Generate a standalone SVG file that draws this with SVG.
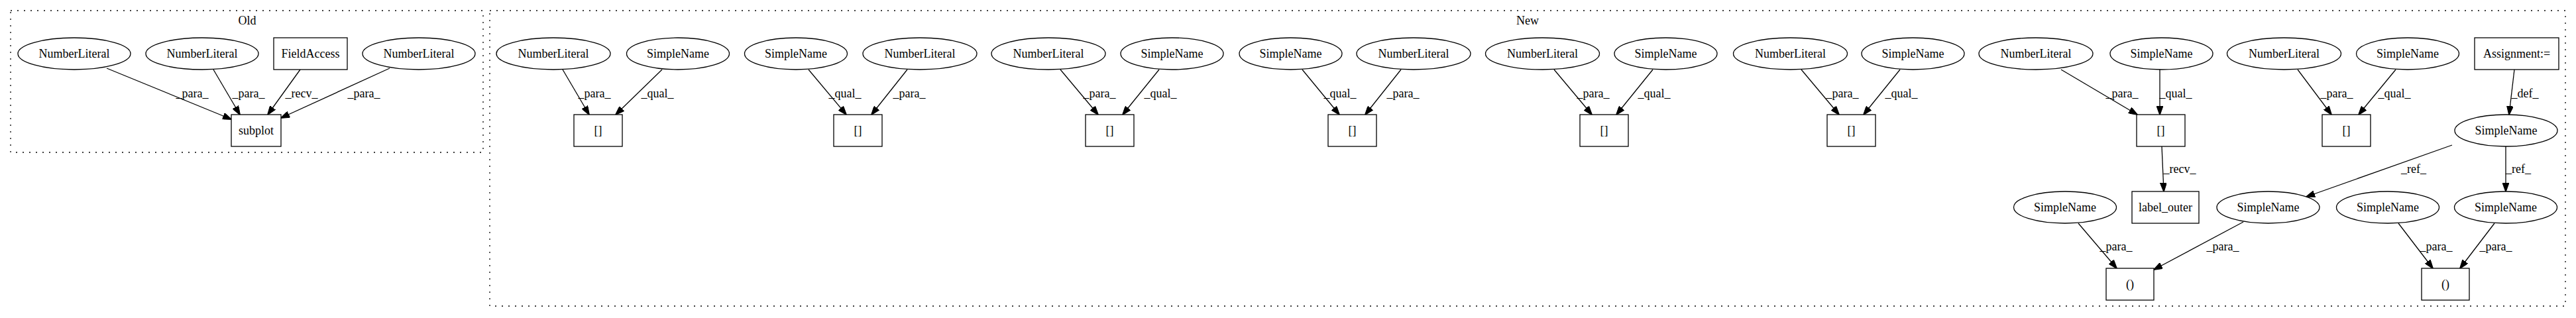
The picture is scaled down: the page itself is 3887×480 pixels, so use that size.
<svg xmlns="http://www.w3.org/2000/svg" width="3887" height="480" viewBox="0 0 3887 480">
<style>
text{font-family:"Liberation Serif","Times New Roman",serif;font-size:18px;fill:#000;text-anchor:middle}
.n ellipse,.n rect{fill:#fff;stroke:#000;stroke-width:1.3}
.cl{fill:none;stroke:#000;stroke-width:1.3;stroke-dasharray:2,8}
.e line{stroke:#000;stroke-width:1.3;marker-end:url(#ah)}
</style>
<defs>
<marker id="ah" markerUnits="userSpaceOnUse" markerWidth="14" markerHeight="10" refX="13" refY="5" orient="auto">
<path d="M0,0 L14,5 L0,10 z" fill="#000" stroke="#000" stroke-width="1"/>
</marker>
</defs>
<rect width="3887" height="480" fill="#fff"/>
<g id="cluster_old">
<rect class="cl" x="16" y="16" width="713" height="214"/>
<text x="373" y="37">Old</text>
</g>
<g id="cluster_new">
<rect class="cl" x="739" y="16" width="3132" height="446"/>
<text x="2305" y="37">New</text>
</g>
<g id="edges" class="e">
<line x1="161" y1="103" x2="349" y2="180"/>
<line x1="322" y1="105" x2="362" y2="173"/>
<line x1="453" y1="105" x2="404" y2="173"/>
<line x1="588" y1="103" x2="424" y2="178"/>
<line x1="849" y1="105" x2="889" y2="173"/>
<line x1="999" y1="105" x2="929" y2="173"/>
<line x1="1220" y1="105" x2="1277" y2="173"/>
<line x1="1369" y1="105" x2="1315" y2="173"/>
<line x1="1600" y1="105" x2="1657" y2="173"/>
<line x1="1749" y1="105" x2="1694" y2="173"/>
<line x1="1965" y1="105" x2="2021" y2="173"/>
<line x1="2114" y1="105" x2="2060" y2="173"/>
<line x1="2345" y1="105" x2="2402" y2="173"/>
<line x1="2494" y1="105" x2="2439" y2="173"/>
<line x1="2718" y1="105" x2="2775" y2="173"/>
<line x1="2867" y1="105" x2="2812" y2="173"/>
<line x1="3110" y1="105" x2="3225" y2="173"/>
<line x1="3259" y1="105" x2="3259" y2="173"/>
<line x1="3467" y1="105" x2="3518" y2="173"/>
<line x1="3615" y1="105" x2="3559" y2="173"/>
<line x1="3794" y1="105" x2="3786" y2="173"/>
<line x1="3262" y1="221" x2="3265" y2="289"/>
<line x1="3700" y1="219" x2="3480" y2="297"/>
<line x1="3781" y1="221" x2="3781" y2="289"/>
<line x1="3136" y1="337" x2="3194" y2="405"/>
<line x1="3385" y1="335" x2="3250" y2="407"/>
<line x1="3619" y1="337" x2="3671" y2="405"/>
<line x1="3764" y1="337" x2="3712" y2="405"/>
<g id="edge_labels">
<text x="290" y="147">_para_</text>
<text x="375" y="147">_para_</text>
<text x="455" y="147">_recv_</text>
<text x="549" y="147">_para_</text>
<text x="897" y="147">_para_</text>
<text x="992" y="147">_qual_</text>
<text x="1275" y="147">_qual_</text>
<text x="1372" y="147">_para_</text>
<text x="1659" y="147">_para_</text>
<text x="1751" y="147">_qual_</text>
<text x="2022" y="147">_qual_</text>
<text x="2117" y="147">_para_</text>
<text x="2404" y="147">_para_</text>
<text x="2496" y="147">_qual_</text>
<text x="2780" y="147">_para_</text>
<text x="2869" y="147">_qual_</text>
<text x="3202" y="147">_para_</text>
<text x="3283" y="147">_qual_</text>
<text x="3526" y="147">_para_</text>
<text x="3613" y="147">_qual_</text>
<text x="3810" y="147">_def_</text>
<text x="3289" y="261">_recv_</text>
<text x="3642" y="261">_ref_</text>
<text x="3800" y="261">_ref_</text>
<text x="3193" y="378">_para_</text>
<text x="3354" y="378">_para_</text>
<text x="3676" y="378">_para_</text>
<text x="3766" y="378">_para_</text>
</g>
</g>
<g id="o1" class="n"><ellipse cx="112" cy="81" rx="85" ry="24"/><text x="112" y="87">NumberLiteral</text></g>
<g id="o2" class="n"><ellipse cx="305" cy="81" rx="85" ry="24"/><text x="305" y="87">NumberLiteral</text></g>
<g id="o3" class="n"><rect x="413" y="57" width="111" height="48"/><text x="468.5" y="87">FieldAccess</text></g>
<g id="o4" class="n"><ellipse cx="632" cy="81" rx="85" ry="24"/><text x="632" y="87">NumberLiteral</text></g>
<g id="o5" class="n"><rect x="349" y="173" width="75" height="48"/><text x="386.5" y="203">subplot</text></g>
<g id="n1" class="n"><ellipse cx="835" cy="81" rx="86" ry="24"/><text x="835" y="87">NumberLiteral</text></g>
<g id="n2" class="n"><ellipse cx="1023" cy="81" rx="77.5" ry="24"/><text x="1023" y="87">SimpleName</text></g>
<g id="n3" class="n"><ellipse cx="1201" cy="81" rx="77.5" ry="24"/><text x="1201" y="87">SimpleName</text></g>
<g id="n4" class="n"><ellipse cx="1388" cy="81" rx="86" ry="24"/><text x="1388" y="87">NumberLiteral</text></g>
<g id="n5" class="n"><ellipse cx="1582" cy="81" rx="86" ry="24"/><text x="1582" y="87">NumberLiteral</text></g>
<g id="n6" class="n"><ellipse cx="1768.5" cy="81" rx="77.5" ry="24"/><text x="1768.5" y="87">SimpleName</text></g>
<g id="n7" class="n"><ellipse cx="1947.5" cy="81" rx="77.5" ry="24"/><text x="1947.5" y="87">SimpleName</text></g>
<g id="n8" class="n"><ellipse cx="2133" cy="81" rx="86" ry="24"/><text x="2133" y="87">NumberLiteral</text></g>
<g id="n9" class="n"><ellipse cx="2327.5" cy="81" rx="86" ry="24"/><text x="2327.5" y="87">NumberLiteral</text></g>
<g id="n10" class="n"><ellipse cx="2513.5" cy="81" rx="77.5" ry="24"/><text x="2513.5" y="87">SimpleName</text></g>
<g id="n11" class="n"><ellipse cx="2701.5" cy="81" rx="86" ry="24"/><text x="2701.5" y="87">NumberLiteral</text></g>
<g id="n12" class="n"><ellipse cx="2886.5" cy="81" rx="77.5" ry="24"/><text x="2886.5" y="87">SimpleName</text></g>
<g id="n13" class="n"><ellipse cx="3072" cy="81" rx="86" ry="24"/><text x="3072" y="87">NumberLiteral</text></g>
<g id="n14" class="n"><ellipse cx="3261.5" cy="81" rx="77.5" ry="24"/><text x="3261.5" y="87">SimpleName</text></g>
<g id="n15" class="n"><ellipse cx="3446.5" cy="81" rx="86" ry="24"/><text x="3446.5" y="87">NumberLiteral</text></g>
<g id="n16" class="n"><ellipse cx="3633" cy="81" rx="77.5" ry="24"/><text x="3633" y="87">SimpleName</text></g>
<g id="n17" class="n"><rect x="3734" y="57" width="127" height="48"/><text x="3797.5" y="87">Assignment:=</text></g>
<g id="b1" class="n"><rect x="866" y="173" width="73" height="48"/><text x="902.5" y="203">[]</text></g>
<g id="b2" class="n"><rect x="1258" y="173" width="73" height="48"/><text x="1294.5" y="203">[]</text></g>
<g id="b3" class="n"><rect x="1638" y="173" width="73" height="48"/><text x="1674.5" y="203">[]</text></g>
<g id="b4" class="n"><rect x="2004" y="173" width="73" height="48"/><text x="2040.5" y="203">[]</text></g>
<g id="b5" class="n"><rect x="2384" y="173" width="73" height="48"/><text x="2420.5" y="203">[]</text></g>
<g id="b6" class="n"><rect x="2757" y="173" width="73" height="48"/><text x="2793.5" y="203">[]</text></g>
<g id="b7" class="n"><rect x="3224" y="173" width="73" height="48"/><text x="3260.5" y="203">[]</text></g>
<g id="b8" class="n"><rect x="3504" y="173" width="73" height="48"/><text x="3540.5" y="203">[]</text></g>
<g id="sdef" class="n"><ellipse cx="3781.5" cy="197" rx="77.5" ry="24"/><text x="3781.5" y="203">SimpleName</text></g>
<g id="s9" class="n"><ellipse cx="3116" cy="313" rx="77.5" ry="24"/><text x="3116" y="319">SimpleName</text></g>
<g id="lo" class="n"><rect x="3217" y="289" width="101" height="48"/><text x="3267.5" y="319">label_outer</text></g>
<g id="s10" class="n"><ellipse cx="3422.5" cy="313" rx="77.5" ry="24"/><text x="3422.5" y="319">SimpleName</text></g>
<g id="s11" class="n"><ellipse cx="3603" cy="313" rx="77.5" ry="24"/><text x="3603" y="319">SimpleName</text></g>
<g id="s12" class="n"><ellipse cx="3781" cy="313" rx="77.5" ry="24"/><text x="3781" y="319">SimpleName</text></g>
<g id="p1" class="n"><rect x="3178" y="405" width="72" height="48"/><text x="3214" y="435">()</text></g>
<g id="p2" class="n"><rect x="3654" y="405" width="72" height="48"/><text x="3690" y="435">()</text></g>
</svg>
